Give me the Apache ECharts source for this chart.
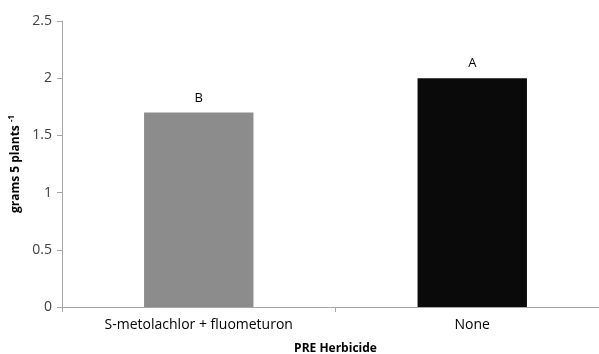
<!DOCTYPE html>
<html>
<head>
<meta charset="utf-8">
<script src="https://cdn.jsdelivr.net/npm/echarts@6/dist/echarts.min.js"></script>
<style>html,body{margin:0;padding:0;background:#fff;}#c{width:599px;height:354px;}</style>
</head>
<body>
<div id="c"></div>
<script>
const categories = ["S-metolachlor + fluometuron", "None"];
const values = [1.70, 2.00];
const letters = ["B", "A"];
const barColors = ["#8c8c8c", "#0a0a0a"];
const yTicks = [0, 0.5, 1, 1.5, 2, 2.5];

const chart = echarts.init(document.getElementById('c'), null, {renderer: 'canvas'});
const font = '"Open Sans", "Liberation Sans", sans-serif';
chart.setOption({
  animation: false,
  backgroundColor: '#ffffff',
  grid: {left: 62, right: -10, top: 21, bottom: 47, containLabel: false, outerBoundsMode: 'none'},
  xAxis: {
    type: 'category',
    data: categories,
    name: 'PRE Herbicide',
    nameLocation: 'middle',
    nameGap: 36,
    nameTextStyle: {fontFamily: font, fontWeight: 'bold', fontSize: 12, color: '#000'},
    axisLine: {lineStyle: {color: '#a6a6a6', width: 1}},
    axisTick: {show: true, alignWithLabel: false, length: 5, lineStyle: {color: '#a6a6a6'}},
    axisLabel: {fontFamily: font, fontSize: 14, color: '#000', margin: 11}
  },
  yAxis: {
    type: 'value',
    min: 0, max: 2.5, interval: 0.5,
    name: 'grams 5 plants {sup|-1}',
    nameLocation: 'middle',
    nameGap: 38,
    nameRotate: 90,
    nameTextStyle: {
      fontFamily: font, fontWeight: 'bold', fontSize: 12, color: '#000',
      rich: {sup: {fontSize: 8, fontWeight: 'bold', fontFamily: font, verticalAlign: 'top', padding: [0, 0, 8, 0], color: '#000'}}
    },
    splitLine: {show: false},
    axisLine: {show: true, lineStyle: {color: '#a6a6a6', width: 1}},
    axisTick: {show: true, length: 5, lineStyle: {color: '#a6a6a6'}},
    axisLabel: {fontFamily: font, fontSize: 14, color: '#404040', margin: 10,
      formatter: v => yTicks.includes(v) ? String(v) : ''}
  },
  series: [{
    type: 'bar',
    barWidth: '40%',
    data: values.map((v, i) => ({value: v, itemStyle: {color: barColors[i]}})),
    label: {
      show: true, position: 'top', distance: 8,
      fontFamily: font, fontSize: 13, color: '#000',
      formatter: p => letters[p.dataIndex]
    }
  }]
});
</script>
</body>
</html>
